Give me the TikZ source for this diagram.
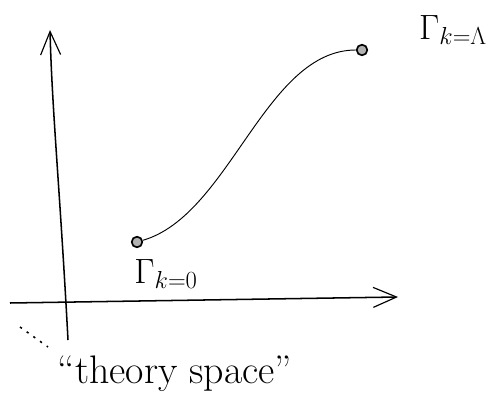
\RequirePackage{fix-cm}
\documentclass[tikz,border=0pt]{standalone}
\usepackage{amsmath}
\usetikzlibrary{arrows.meta}

\begin{document}
\begin{tikzpicture}[
      x=0.03cm, y=-0.03cm,
      every node/.style={font=\fontsize{30}{36}\selectfont},
      axisline/.style={line width=1.3pt, -{Straight Barb[length=7mm, width=6mm, line width=1pt]}},
      flowdot/.style={draw, circle, line width=1.4pt, fill=gray!60, inner sep=3.2pt},
    ]
    \useasboundingbox (0,0) rectangle (486,401);

    % axes
    \coordinate (vbot) at (68,340);
    \coordinate (vtop) at (50,30);
    \coordinate (hleft) at (10,303);
    \coordinate (hright) at (398,297);
    \draw[axisline] (vbot) .. controls (60,190) and (52,110) .. (vtop);
    \draw[axisline] (hleft) -- (hright);
    \coordinate (dstart) at (20,327);
    \coordinate (dend) at (48,347);
    \draw[line width=1.3pt, dash pattern=on 2pt off 5pt] (dstart) -- (dend);

    % flow from k=Lambda to k=0
    \node[flowdot] (kzero) at (137,242) {};
    \node[flowdot] (klam) at (362,50) {};
    \draw[line width=0.8pt] (kzero) .. controls (230,215) and (265,50) .. (klam);

    % labels
    \node (lzero) at (166,274) {$\Gamma_{k=0}$};
    \node (llam) at (453,30) {$\Gamma_{k=\Lambda}$};
    \node[font=\fontsize{34}{40}\selectfont] (space) at (175,374) {``theory space''};
  \end{tikzpicture}
\end{document}
